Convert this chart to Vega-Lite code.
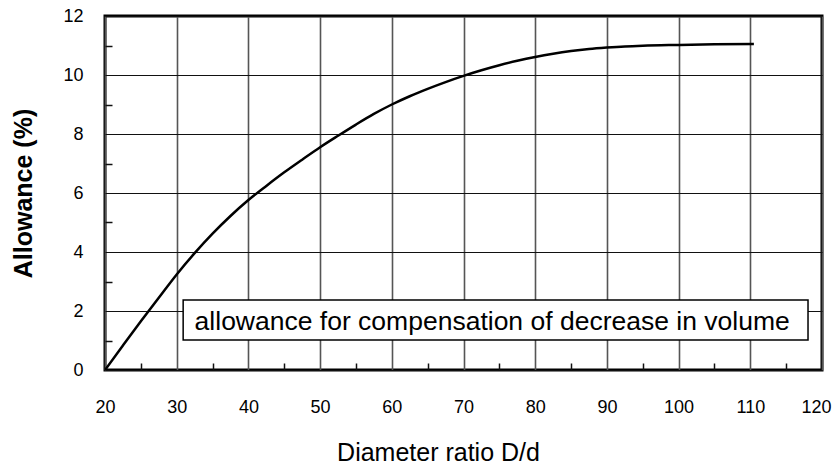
{
  "$schema": "https://vega.github.io/schema/vega-lite/v6.json",
  "autosize": {"type": "none"},
  "width": 717,
  "height": 354,
  "padding": {"left": 105, "top": 16, "right": 11, "bottom": 97},
  "background": "white",
  "config": {
    "view": {"stroke": "black", "strokeWidth": 3},
    "font": "Liberation Sans"
  },
  "resolve": {"axis": {"x": "independent", "y": "independent"}},
  "datasets": {
    "curve": [
      {"ratio": 20, "allowance": 0},
      {"ratio": 22.5, "allowance": 0.83},
      {"ratio": 25, "allowance": 1.65},
      {"ratio": 27.5, "allowance": 2.45},
      {"ratio": 30, "allowance": 3.24},
      {"ratio": 32.5, "allowance": 3.96},
      {"ratio": 35, "allowance": 4.62},
      {"ratio": 37.5, "allowance": 5.22},
      {"ratio": 40, "allowance": 5.76},
      {"ratio": 42.5, "allowance": 6.24},
      {"ratio": 45, "allowance": 6.7},
      {"ratio": 47.5, "allowance": 7.13},
      {"ratio": 50, "allowance": 7.55},
      {"ratio": 52.5, "allowance": 7.94},
      {"ratio": 55, "allowance": 8.32},
      {"ratio": 57.5, "allowance": 8.68},
      {"ratio": 60, "allowance": 9.0},
      {"ratio": 62.5, "allowance": 9.28},
      {"ratio": 65, "allowance": 9.53},
      {"ratio": 67.5, "allowance": 9.76},
      {"ratio": 70, "allowance": 9.97},
      {"ratio": 72.5, "allowance": 10.16},
      {"ratio": 75, "allowance": 10.33},
      {"ratio": 77.5, "allowance": 10.48},
      {"ratio": 80, "allowance": 10.61},
      {"ratio": 82.5, "allowance": 10.72},
      {"ratio": 85, "allowance": 10.81},
      {"ratio": 87.5, "allowance": 10.88},
      {"ratio": 90, "allowance": 10.93},
      {"ratio": 92.5, "allowance": 10.97},
      {"ratio": 95, "allowance": 10.995},
      {"ratio": 100, "allowance": 11.02},
      {"ratio": 105, "allowance": 11.04},
      {"ratio": 110.5, "allowance": 11.05}
    ],
    "note": [
      {"x1": 30.9, "x2": 118.05, "y1": 2.37, "y2": 1.02, "xm": 74.0, "ym": 1.63, "label": "allowance for compensation of decrease in volume"}
    ]
  },
  "layer": [
    {
      "data": {"name": "curve"},
      "mark": {"type": "line", "color": "black", "strokeWidth": 2.5, "interpolate": "monotone", "clip": true},
      "encoding": {
        "x": {
          "field": "ratio", "type": "quantitative",
          "scale": {"domain": [20, 120], "nice": false, "zero": false},
          "axis": {
            "orient": "bottom",
            "title": "Diameter ratio D/d",
            "titleFont": "Liberation Sans", "titleFontSize": 25, "titleFontWeight": "normal", "titleColor": "black",
            "titleX": 333, "titleY": 82, "titleAlign": "center", "titleBaseline": "middle",
            "values": [20,30,40,50,60,70,80,90,100,110,120],
            "labelFont": "Liberation Sans", "labelFontSize": 18, "labelColor": "black",
            "labelPadding": 28, "labelFlush": false, "labelOverlap": false,
            "labelOffset": {"condition": {"test": "datum.value === 120", "value": -6}, "value": 0},
            "domain": false, "ticks": false,
            "grid": true, "gridColor": "#555", "gridWidth": 1.6
          }
        },
        "y": {
          "field": "allowance", "type": "quantitative",
          "scale": {"domain": [0, 12], "nice": false},
          "axis": {
            "orient": "left",
            "title": "Allowance  (%)",
            "titleFont": "Liberation Sans", "titleFontSize": 25, "titleFontWeight": "bold", "titleColor": "black",
            "titleX": -82, "titleY": 177, "titleAngle": -90, "titleAlign": "center", "titleBaseline": "middle",
            "values": [0,2,4,6,8,10,12],
            "labelFont": "Liberation Sans", "labelFontSize": 18, "labelColor": "black",
            "labelPadding": 22, "labelFlush": false, "labelOverlap": false,
            "domain": false, "ticks": false,
            "grid": true, "gridColor": "#111", "gridWidth": 1.2
          }
        }
      }
    },
    {
      "data": {"name": "curve"},
      "mark": {"type": "point", "opacity": 0},
      "encoding": {
        "x": {
          "field": "ratio", "type": "quantitative",
          "axis": {
            "orient": "bottom", "offset": -7, "title": null,
            "values": [25,35,45,55,65,75,85,95,105,115],
            "labels": false, "domain": false, "grid": false,
            "ticks": true, "tickSize": 7, "tickColor": "#111", "tickWidth": 1.5
          }
        },
        "y": {
          "field": "allowance", "type": "quantitative",
          "axis": {
            "orient": "left", "offset": -7, "title": null,
            "values": [1,3,5,7,9,11],
            "labels": false, "domain": false, "grid": false,
            "ticks": true, "tickSize": 7, "tickColor": "#111", "tickWidth": 1.5
          }
        }
      }
    },
    {
      "data": {"name": "note"},
      "mark": {"type": "rect", "fill": "white", "stroke": "black", "strokeWidth": 1.5},
      "encoding": {
        "x": {"field": "x1", "type": "quantitative", "axis": null},
        "x2": {"field": "x2"},
        "y": {"field": "y1", "type": "quantitative", "axis": null},
        "y2": {"field": "y2"}
      }
    },
    {
      "data": {"name": "note"},
      "mark": {"type": "text", "font": "Liberation Sans", "fontSize": 26.5, "color": "black", "align": "center", "baseline": "middle"},
      "encoding": {
        "x": {"field": "xm", "type": "quantitative", "axis": null},
        "y": {"field": "ym", "type": "quantitative", "axis": null},
        "text": {"field": "label"}
      }
    }
  ]
}
